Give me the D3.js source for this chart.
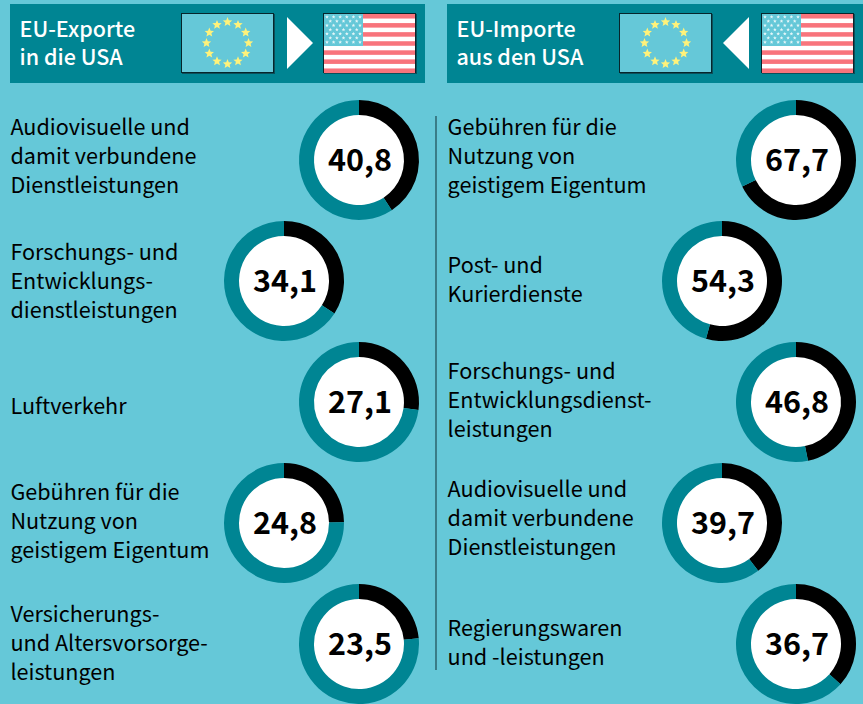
<!DOCTYPE html>
<html lang="de">
<head>
<meta charset="utf-8">
<script src="https://cdn.jsdelivr.net/npm/d3@7"></script>
<style>
html, body { margin: 0; padding: 0; background: #65c8d8; overflow: hidden; }
svg { display: block; }
text { font-family: "Noto Sans CJK SC", "Noto Sans", sans-serif; }
</style>
</head>
<body>
<div id="chart"></div>
<script>
// DATA
const exportLabels = [
    ['Audiovisuelle und', 'damit verbundene', 'Dienstleistungen'],
    ['Forschungs- und', 'Entwicklungs-', 'dienstleistungen'],
    ['Luftverkehr'],
    ['Gebühren für die', 'Nutzung von', 'geistigem Eigentum'],
    ['Versicherungs-', 'und Altersvorsorge-', 'leistungen']
];
const exportValues = [40.8, 34.1, 27.1, 24.8, 23.5];

const importLabels = [
    ['Gebühren für die', 'Nutzung von', 'geistigem Eigentum'],
    ['Post- und', 'Kurierdienste'],
    ['Forschungs- und', 'Entwicklungsdienst-', 'leistungen'],
    ['Audiovisuelle und', 'damit verbundene', 'Dienstleistungen'],
    ['Regierungswaren', 'und -leistungen']
];
const importValues = [67.7, 54.3, 46.8, 39.7, 36.7];

const exportTitle = ['EU-Exporte', 'in die USA'];
const importTitle = ['EU-Importe', 'aus den USA'];

// LAYOUT
const width = 863, height = 704;
const colorBg = '#65c8d8', colorTeal = '#008593', colorRed = '#f8747c', colorStar = '#fff27a';
const rowY = [160, 281, 402, 523, 644];
const exportLabelY = [156, 281, 406, 521, 643];
const importLabelY = [156, 280, 400, 518, 643];

const svg = d3.select('#chart').append('svg')
    .attr('width', width)
    .attr('height', height)
    .attr('viewBox', `0 0 ${width} ${height}`);

const pie = d3.pie().sort(null).value(d => d);
const arc = d3.arc().innerRadius(45).outerRadius(60);
const valueFormat = v => v.toFixed(1).replace('.', ',');

function starPath(r) {
    const pts = d3.range(10).map(i => {
        const rad = i % 2 ? r * 0.45 : r;
        const a = i * Math.PI / 5;
        return [rad * Math.sin(a), -rad * Math.cos(a)];
    });
    return d3.line()(pts) + 'Z';
}

function drawEuFlag(g, x, y) {
    g.append('rect').attr('x', x + 1).attr('y', y + 1).attr('width', 93).attr('height', 60).attr('fill', '#0b4f5a');
    g.append('rect').attr('x', x + 0.5).attr('y', y + 0.5).attr('width', 92).attr('height', 59)
        .attr('fill', colorBg).attr('stroke', '#07252b').attr('stroke-width', 1);
    g.selectAll('.eu-star').data(d3.range(12)).join('path')
        .attr('class', 'eu-star')
        .attr('d', starPath(4.9))
        .attr('fill', colorStar)
        .attr('transform', i => {
            const a = i * Math.PI / 6;
            return `translate(${x + 46.5 + 21 * Math.sin(a)},${y + 30 - 21 * Math.cos(a)})`;
        });
}

function drawUsFlag(g, x, y) {
    g.append('rect').attr('x', x + 1).attr('y', y + 1).attr('width', 93).attr('height', 60).attr('fill', '#0b4f5a');
    g.append('rect').attr('x', x + 0.5).attr('y', y + 0.5).attr('width', 92).attr('height', 59)
        .attr('fill', '#fff').attr('stroke', '#07252b').attr('stroke-width', 1);
    const stripe = d3.scaleBand().domain(d3.range(13)).range([y + 1, y + 60]);
    g.selectAll('.stripe').data(d3.range(0, 13, 2)).join('rect')
        .attr('class', 'stripe')
        .attr('x', x + 1).attr('width', 91)
        .attr('y', d => stripe(d)).attr('height', stripe.bandwidth())
        .attr('fill', colorRed);
    g.append('rect').attr('x', x + 1).attr('y', y + 1).attr('width', 39).attr('height', 32).attr('fill', colorBg);
    const rows = d3.range(7);
    rows.forEach(r => {
        const n = r % 2 ? 5 : 6;
        d3.range(n).forEach(c => {
            g.append('path')
                .attr('d', starPath(1.9))
                .attr('fill', '#e4f6f8')
                .attr('transform', `translate(${x + 4 + (r % 2 ? 3.3 : 0) + c * 6.6},${y + 4 + r * 4.2})`);
        });
    });
}

function drawColumn(opts) {
    const g = svg.append('g');

    // HEADER
    g.append('rect').attr('x', opts.headerX).attr('y', 4).attr('width', opts.headerW).attr('height', 79).attr('fill', colorTeal);
    g.selectAll('.title').data(opts.title).join('text')
        .attr('class', 'title')
        .attr('x', opts.headerX + 9.5)
        .attr('y', (d, i) => 29 + i * 28)
        .attr('dy', '0.36em')
        .attr('fill', '#fff')
        .attr('font-size', 21.5)
        .attr('font-weight', 500)
        .text(d => d);
    drawEuFlag(g, opts.euX, 13);
    drawUsFlag(g, opts.usX, 13);
    g.append('path').attr('d', d3.line()(opts.arrow) + 'Z').attr('fill', '#fff');

    // ROWS
    opts.values.forEach((v, i) => {
        const cx = opts.ringX[i % 2], cy = rowY[i];
        const ring = g.append('g').attr('transform', `translate(${cx},${cy})`);
        ring.append('circle').attr('r', 46).attr('fill', '#fff');
        ring.selectAll('path').data(pie([v, 100 - v])).join('path')
            .attr('d', arc)
            .attr('fill', (d, j) => j === 0 ? '#000' : colorTeal);
        ring.append('text')
            .attr('x', 1)
            .attr('text-anchor', 'middle')
            .attr('dy', '0.36em')
            .attr('font-size', 30.5)
            .attr('font-weight', 700)
            .attr('fill', '#000')
            .text(valueFormat(v));

        const lines = opts.labels[i];
        g.append('g').selectAll('text').data(lines).join('text')
            .attr('x', opts.labelX)
            .attr('y', (d, j) => opts.labelY[i] + (j - (lines.length - 1) / 2) * 29)
            .attr('dy', '0.36em')
            .attr('font-size', 21.6)
            .attr('fill', '#000')
            .text(d => d);
    });
}

drawColumn({
    headerX: 10, headerW: 415, title: exportTitle,
    euX: 181, usX: 323,
    arrow: [[287, 17], [313, 43], [287, 69]],
    ringX: [359, 284],
    labelX: 10.4, labelY: exportLabelY,
    labels: exportLabels, values: exportValues
});

drawColumn({
    headerX: 447, headerW: 416, title: importTitle,
    euX: 619, usX: 761,
    arrow: [[749, 17], [723, 43], [749, 69]],
    ringX: [796, 722],
    labelX: 447.6, labelY: importLabelY,
    labels: importLabels, values: importValues
});

// DIVIDER
svg.append('line')
    .attr('x1', 436).attr('x2', 436)
    .attr('y1', 116).attr('y2', 670)
    .attr('stroke', '#1d4a52').attr('stroke-width', 1.2);
</script>
</body>
</html>
